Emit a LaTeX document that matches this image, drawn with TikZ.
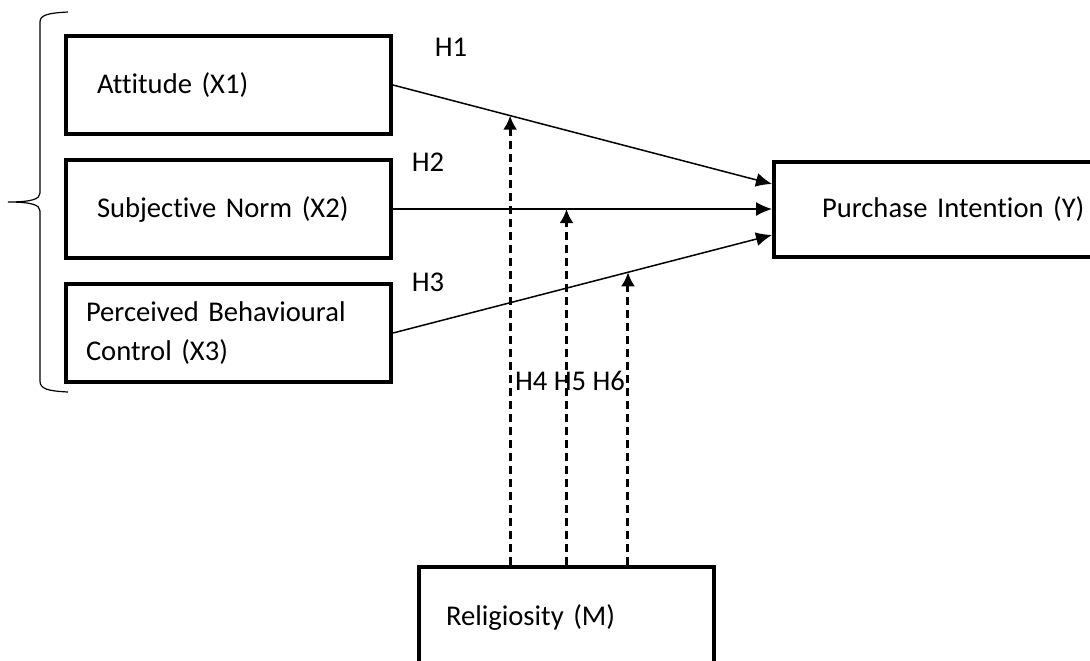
\documentclass[tikz,border=0pt]{standalone}
\usepackage{fontspec}
\setmainfont{Carlito}[Ligatures=NoCommon]
\usetikzlibrary{arrows.meta,positioning,calc}

\begin{document}
\begin{tikzpicture}[x=0.5pt,y=-0.5pt,font=\fontsize{14.3}{19.5}\selectfont]

      \tikzstyle{construct}=[draw,line width=2pt,minimum width=162.5pt,minimum height=49pt,align=left,inner ysep=0pt]
      \tikzstyle{path line}=[line width=0.75pt,-{Latex[length=8pt,width=7pt]}]
      \tikzstyle{moderation}=[line width=1.5pt,dash pattern=on 4pt off 2.5pt,-{Latex[length=7pt,width=7pt]}]
      % \tikzstyle{brace line}=[line width=0.6pt]

      \useasboundingbox (0,0) rectangle (1090,660);
      \clip (0,0) rectangle (1090,660);

      \node[construct,text width=131.5pt,inner xsep=15.5pt] (A) at (228.5,85) {Attitude (X1)};
      \node[construct,text width=131.5pt,inner xsep=15.5pt] (B) [below=11pt of A] {Subjective Norm (X2)};
      \node[construct,text width=142.5pt,inner xsep=10pt] (C) [below=11pt of B] {Perceived Behavioural\\Control (X3)};

      \node[construct,text width=152pt,inner xsep=24pt,minimum height=47.5pt] (Y) [right=189.5pt of B] {Purchase Intention (Y)};
      \node[construct,text width=120.5pt,inner xsep=13.5pt,minimum width=147.5pt,minimum height=50pt,anchor=north west] (M) at (417,565) {Religiosity (M)};

      \node (H1) at (451,47) {H1};
      \node (H2) at (428,162) {H2};
      \node (H3) at (428,282) {H3};
      \node (H456) at (570,381) {H4 H5 H6};

      \coordinate (y1) at ([yshift=12.5pt]Y.west);
      \coordinate (y3) at ([yshift=-13pt]Y.west);

      \draw[path line] (A.east) -- (y1);
      \draw[path line] (B.east) -- (B.east -| Y.west);
      \draw[path line] (C.east) -- (y3);

      \coordinate (h4) at ($(A.east)!0.309!(y1)$);
      \coordinate (h6) at ($(C.east)!0.62!(y3)$);

      \draw[moderation] (M.north -| h4) -- (h4);
      \draw[moderation] (M.north) -- (M.north |- B.east);
      \draw[moderation] (M.north -| h6) -- (h6);

      % brace round the three constructs
      \draw[line width=0.6pt] (68,12) .. controls (48,13) and (40,15) .. (40,22) -- (40,193)
            .. controls (40,199) and (32,202) .. (8,202)
            .. controls (32,202) and (40,205) .. (40,211) -- (40,381)
            .. controls (40,389) and (48,391) .. (68,392);

\end{tikzpicture}
\end{document}
